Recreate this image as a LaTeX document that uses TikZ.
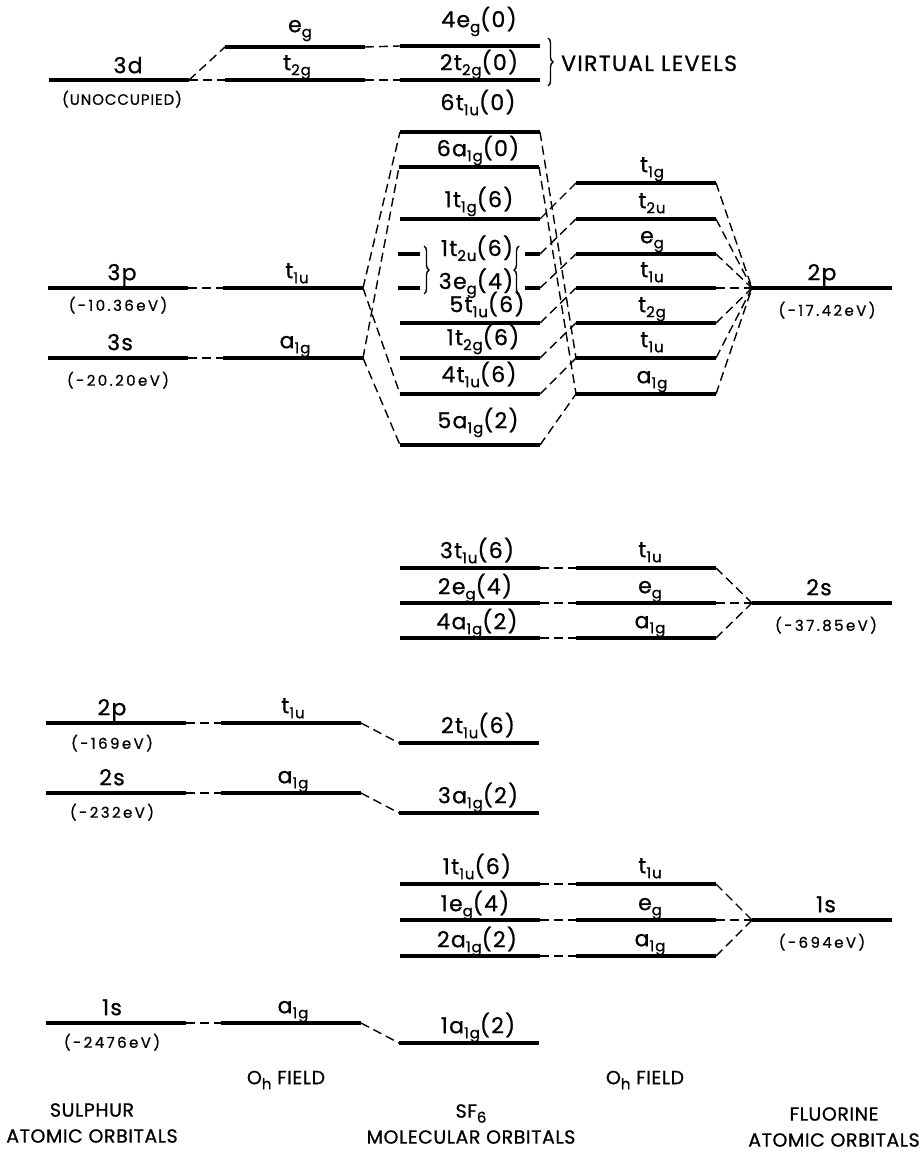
\documentclass[tikz,border=0pt]{standalone}
\usepackage{fontspec}
\setmainfont{Poppins}
\newfontfamily\lblfont[LetterSpace=6,FakeBold=0.8]{Poppins}
\newfontfamily\enfont[LetterSpace=16,FakeBold=0.8]{Poppins}
\newfontfamily\ttlfont[LetterSpace=3,FakeBold=0.8]{Poppins}
\usetikzlibrary{positioning,decorations.pathreplacing}
\newcommand{\sbs}[1]{\raisebox{-5pt}{\fontsize{15}{15}\selectfont #1}}

\tikzset{
  lvl/.style={fill=black, inner sep=0pt, outer sep=0pt, minimum height=3.2pt, minimum width=#1},
  lvl/.default=140pt,
  conn/.style={line width=1.4pt, dash pattern=on 9pt off 5pt},
  lab/.style={inner sep=0pt, font=\lblfont\fontsize{22}{22}\selectfont, text height=16pt, text depth=5pt},
  en/.style={inner sep=0pt, font=\enfont\fontsize{15}{15}\selectfont, text height=11pt, text depth=3pt},
  ttl/.style={inner sep=0pt, font=\ttlfont\fontsize{19}{26}\selectfont, align=center},
  brc/.style={decorate, decoration={brace, amplitude=5pt}, line width=1.4pt},
}

\begin{document}
\begin{tikzpicture}[x=1pt, y=-1pt]
    \useasboundingbox (0,0) rectangle (922,1158);

    % sulphur atomic orbitals
    \node[lvl] (s3d) at (119,80) {};
    \node[lvl] (s3p) at (118,288) {};
    \node[lvl] (s3s) at (118,358) {};
    \node[lvl] (s2p) at (116,723) {};
    \node[lvl] (s2s) at (116,793) {};
    \node[lvl] (s1s) at (116,1023) {};
    % sulphur in the Oh field
    \node[lvl] (seg) at (295,47) {};
    \node[lvl] (st2g) at (295,80) {};
    \node[lvl] (st1u) at (293,288) {};
    \node[lvl] (sa1g) at (293,358) {};
    \node[lvl] (st1uc) at (291,723) {};
    \node[lvl] (sa1gc) at (291,793) {};
    \node[lvl] (sa1gk) at (291,1023) {};
    % SF6 molecular orbitals
    \node[lvl] (m4eg) at (470,46) {};
    \node[lvl] (m2t2g) at (470,80) {};
    \node[lvl] (m6t1u) at (470,132) {};
    \node[lvl] (m6a1g) at (469,167) {};
    \node[lvl] (m1t1g) at (470,219) {};
    \node[lvl=22pt] (m1t2uL) at (409,254) {};
    \node[lvl=15pt] (m1t2uR) at (532.5,254) {};
    \node[lvl=22pt] (m3egL) at (409,288) {};
    \node[lvl=15pt] (m3egR) at (532.5,288) {};
    \node[lvl] (m5t1u) at (470,323) {};
    \node[lvl] (m1t2g) at (470,358) {};
    \node[lvl] (m4t1u) at (470,394) {};
    \node[lvl] (m5a1g) at (470,445) {};
    \node[lvl] (m3t1u) at (470,568) {};
    \node[lvl] (m2eg) at (470,603) {};
    \node[lvl] (m4a1g) at (470,638) {};
    \node[lvl] (m2t1u) at (469,743) {};
    \node[lvl] (m3a1g) at (469,813) {};
    \node[lvl] (m1t1u) at (470,884) {};
    \node[lvl] (m1eg) at (470,920) {};
    \node[lvl] (m2a1g) at (470,956) {};
    \node[lvl] (m1a1g) at (469,1043) {};
    % fluorine in the Oh field
    \node[lvl] (ft1g) at (646,183) {};
    \node[lvl] (ft2u) at (646,219) {};
    \node[lvl] (fegv) at (646,254) {};
    \node[lvl] (ft1uv) at (646,288) {};
    \node[lvl] (ft2g) at (646,323) {};
    \node[lvl] (ft1uw) at (646,358) {};
    \node[lvl] (fa1gv) at (646,394) {};
    \node[lvl] (ft1us) at (646,568) {};
    \node[lvl] (fegs) at (646,603) {};
    \node[lvl] (fa1gs) at (646,638) {};
    \node[lvl] (ft1uk) at (646,884) {};
    \node[lvl] (fegk) at (646,920) {};
    \node[lvl] (fa1gk) at (646,956) {};
    % fluorine atomic orbitals
    \node[lvl] (f2p) at (822,288) {};
    \node[lvl] (f2s) at (822,603) {};
    \node[lvl] (f1s) at (822,920) {};

    % correlation lines
    \draw[conn] (s3d.east) -- (seg.west);
    \draw[conn] (s3d.east) -- (st2g.west);
    \draw[conn] (seg.east) -- (m4eg.west);
    \draw[conn] (st2g.east) -- (m2t2g.west);
    \draw[conn] (s3p.east) -- (st1u.west);
    \draw[conn] (s3s.east) -- (sa1g.west);
    \draw[conn] (st1u.east) -- (m6t1u.west);
    \draw[conn] (st1u.east) -- (m4t1u.west);
    \draw[conn] (sa1g.east) -- (m6a1g.west);
    \draw[conn] (sa1g.east) -- (m5a1g.west);
    \draw[conn] (m6t1u.east) -- (ft1uw.west);
    \draw[conn] (m6a1g.east) -- (fa1gv.west);
    \draw[conn] (m1t1g.east) -- (ft1g.west);
    \draw[conn] (m1t2uR.east) -- (ft2u.west);
    \draw[conn] (m3egR.east) -- (fegv.west);
    \draw[conn] (m5t1u.east) -- (ft1uv.west);
    \draw[conn] (m1t2g.east) -- (ft2g.west);
    \draw[conn] (m4t1u.east) -- (ft1uw.west);
    \draw[conn] (m5a1g.east) -- (fa1gv.west);
    \draw[conn] (ft1g.east) -- (f2p.west);
    \draw[conn] (ft2u.east) -- (f2p.west);
    \draw[conn] (fegv.east) -- (f2p.west);
    \draw[conn] (ft1uv.east) -- (f2p.west);
    \draw[conn] (ft2g.east) -- (f2p.west);
    \draw[conn] (ft1uw.east) -- (f2p.west);
    \draw[conn] (fa1gv.east) -- (f2p.west);
    \draw[conn] (m3t1u.east) -- (ft1us.west);
    \draw[conn] (m2eg.east) -- (fegs.west);
    \draw[conn] (m4a1g.east) -- (fa1gs.west);
    \draw[conn] (ft1us.east) -- (f2s.west);
    \draw[conn] (fegs.east) -- (f2s.west);
    \draw[conn] (fa1gs.east) -- (f2s.west);
    \draw[conn] (s2p.east) -- (st1uc.west);
    \draw[conn] (st1uc.east) -- (m2t1u.west);
    \draw[conn] (s2s.east) -- (sa1gc.west);
    \draw[conn] (sa1gc.east) -- (m3a1g.west);
    \draw[conn] (m1t1u.east) -- (ft1uk.west);
    \draw[conn] (m1eg.east) -- (fegk.west);
    \draw[conn] (m2a1g.east) -- (fa1gk.west);
    \draw[conn] (ft1uk.east) -- (f1s.west);
    \draw[conn] (fegk.east) -- (f1s.west);
    \draw[conn] (fa1gk.east) -- (f1s.west);
    \draw[conn] (s1s.east) -- (sa1gk.west);
    \draw[conn] (sa1gk.east) -- (m1a1g.west);

    % braces
    \draw[brc] ([xshift=8pt,yshift=8pt]m4eg.east) -- ([xshift=8pt,yshift=-6pt]m2t2g.east);
    \draw[brc] ([xshift=4pt,yshift=8pt]m1t2uL.east) -- ([xshift=4pt,yshift=-6pt]m3egL.east);
    \draw[brc] ([xshift=-6pt,yshift=-6pt]m3egR.west) -- ([xshift=-6pt,yshift=8pt]m1t2uR.west);
    \node[lab, anchor=base west] (virt) at (561,71) {VIRTUAL LEVELS};

    % sulphur labels
    \node[lab, above=0pt of s3d, xshift=9pt] (l3d) {3d};
    \node[en, font=\lblfont\fontsize{15}{15}\selectfont, below=12pt of s3d, xshift=3pt] (e3d) {(UNOCCUPIED)};
    \node[lab, above=1pt of s3p, xshift=4pt] (l3p) {3p};
    \node[en, below=10pt of s3p] (e3p) {(-10.36eV)};
    \node[lab, above=1pt of s3s, xshift=2pt] (l3s) {3s};
    \node[en, below=15pt of s3s] (e3s) {(-20.20eV)};
    \node[lab, above=1pt of s2p, xshift=-4pt] (l2p) {2p};
    \node[en, below=13pt of s2p, xshift=-4pt] (e2p) {(-169eV)};
    \node[lab, above=1pt of s2s, xshift=-4pt] (l2s) {2s};
    \node[en, below=12pt of s2s, xshift=-4pt] (e2s) {(-232eV)};
    \node[lab, above=1pt of s1s, xshift=-4pt] (l1s) {1s};
    \node[en, below=12pt of s1s, xshift=-4pt] (e1s) {(-2476eV)};

    % sulphur Oh labels
    \node[lab, above=8pt of seg, xshift=5pt] (lseg) {e\sbs{g}};
    \node[lab, above=3pt of st2g, xshift=2pt] (lst2g) {t\sbs{2g}};
    \node[lab, above=3pt of st1u, xshift=4pt] (lst1u) {t\sbs{1u}};
    \node[lab, above=3pt of sa1g, xshift=2pt] (lsa1g) {a\sbs{1g}};
    \node[lab, above=3pt of st1uc, xshift=2pt] (lst1uc) {t\sbs{1u}};
    \node[lab, above=3pt of sa1gc, xshift=2pt] (lsa1gc) {a\sbs{1g}};
    \node[lab, above=3pt of sa1gk, xshift=2pt] (lsa1gk) {a\sbs{1g}};

    % SF6 labels
    \node[lab, above=12pt of m4eg, xshift=9pt] (lm4eg) {4e\sbs{g}(0)};
    \node[lab, above=3pt of m2t2g, xshift=9pt] (lm2t2g) {2t\sbs{2g}(0)};
    \node[lab, above=15pt of m6t1u, xshift=8pt] (lm6t1u) {6t\sbs{1u}(0)};
    \node[lab, above=4pt of m6a1g, xshift=9pt] (lm6a1g) {6a\sbs{1g}(0)};
    \node[lab, above=5pt of m1t1g, xshift=9pt] (lm1t1g) {1t\sbs{1g}(6)};
    \node[lab, anchor=base] (lm1t2u) at (477,256) {1t\sbs{2u}(6)};
    \node[lab, anchor=base] (lm3eg) at (476,289) {3e\sbs{g}(4)};
    \node[lab, above=4pt of m5t1u, xshift=17pt] (lm5t1u) {5t\sbs{1u}(6)};
    \node[lab, above=6pt of m1t2g, xshift=13pt] (lm1t2g) {1t\sbs{2g}(6)};
    \node[lab, above=5pt of m4t1u, xshift=9pt] (lm4t1u) {4t\sbs{1u}(6)};
    \node[lab, above=10pt of m5a1g, xshift=8pt] (lm5a1g) {5a\sbs{1g}(2)};
    \node[lab, above=3pt of m3t1u, xshift=7pt] (lm3t1u) {3t\sbs{1u}(6)};
    \node[lab, above=2pt of m2eg, xshift=5pt] (lm2eg) {2e\sbs{g}(4)};
    \node[lab, above=2pt of m4a1g, xshift=7pt] (lm4a1g) {4a\sbs{1g}(2)};
    \node[lab, above=3pt of m2t1u, xshift=9pt] (lm2t1u) {2t\sbs{1u}(6)};
    \node[lab, above=3pt of m3a1g, xshift=9pt] (lm3a1g) {3a\sbs{1g}(2)};
    \node[lab, above=3pt of m1t1u, xshift=7pt] (lm1t1u) {1t\sbs{1u}(6)};
    \node[lab, above=2pt of m1eg, xshift=5pt] (lm1eg) {1e\sbs{g}(4)};
    \node[lab, above=2pt of m2a1g, xshift=7pt] (lm2a1g) {2a\sbs{1g}(2)};
    \node[lab, above=3pt of m1a1g, xshift=9pt] (lm1a1g) {1a\sbs{1g}(2)};

    % fluorine Oh labels
    \node[lab, above=4pt of ft1g, xshift=6pt] (lft1g) {t\sbs{1g}};
    \node[lab, above=4pt of ft2u, xshift=6pt] (lft2u) {t\sbs{2u}};
    \node[lab, above=4pt of fegv, xshift=6pt] (lfegv) {e\sbs{g}};
    \node[lab, above=4pt of ft1uv, xshift=6pt] (lft1uv) {t\sbs{1u}};
    \node[lab, above=4pt of ft2g, xshift=6pt] (lft2g) {t\sbs{2g}};
    \node[lab, above=4pt of ft1uw, xshift=6pt] (lft1uw) {t\sbs{1u}};
    \node[lab, above=4pt of fa1gv, xshift=6pt] (lfa1gv) {a\sbs{1g}};
    \node[lab, above=4pt of ft1us, xshift=4pt] (lft1us) {t\sbs{1u}};
    \node[lab, above=3pt of fegs, xshift=4pt] (lfegs) {e\sbs{g}};
    \node[lab, above=3pt of fa1gs, xshift=4pt] (lfa1gs) {a\sbs{1g}};
    \node[lab, above=4pt of ft1uk, xshift=4pt] (lft1uk) {t\sbs{1u}};
    \node[lab, above=3pt of fegk, xshift=4pt] (lfegk) {e\sbs{g}};
    \node[lab, above=3pt of fa1gk, xshift=4pt] (lfa1gk) {a\sbs{1g}};

    % fluorine labels
    \node[lab, above=1pt of f2p] (lf2p) {2p};
    \node[en, below=15pt of f2p, xshift=5pt] (ef2p) {(-17.42eV)};
    \node[lab, above=1pt of f2s, xshift=-3pt] (lf2s) {2s};
    \node[en, below=15pt of f2s, xshift=4pt] (ef2s) {(-37.85eV)};
    \node[lab, above=1pt of f1s, xshift=4pt] (lf1s) {1s};
    \node[en, below=15pt of f1s] (ef1s) {(-694eV)};

    % column titles
    \node[ttl] (tsul) at (92,1123) {SULPHUR\\ATOMIC ORBITALS};
    \node[ttl] (tsoh) at (286,1080) {O\sbs{h} FIELD};
    \node[ttl] (tsf6) at (471,1124) {SF\sbs{6}\\MOLECULAR ORBITALS};
    \node[ttl] (tfoh) at (645,1080) {O\sbs{h} FIELD};
    \node[ttl] (tflu) at (834,1127) {FLUORINE\\ATOMIC ORBITALS};
\end{tikzpicture}
\end{document}
